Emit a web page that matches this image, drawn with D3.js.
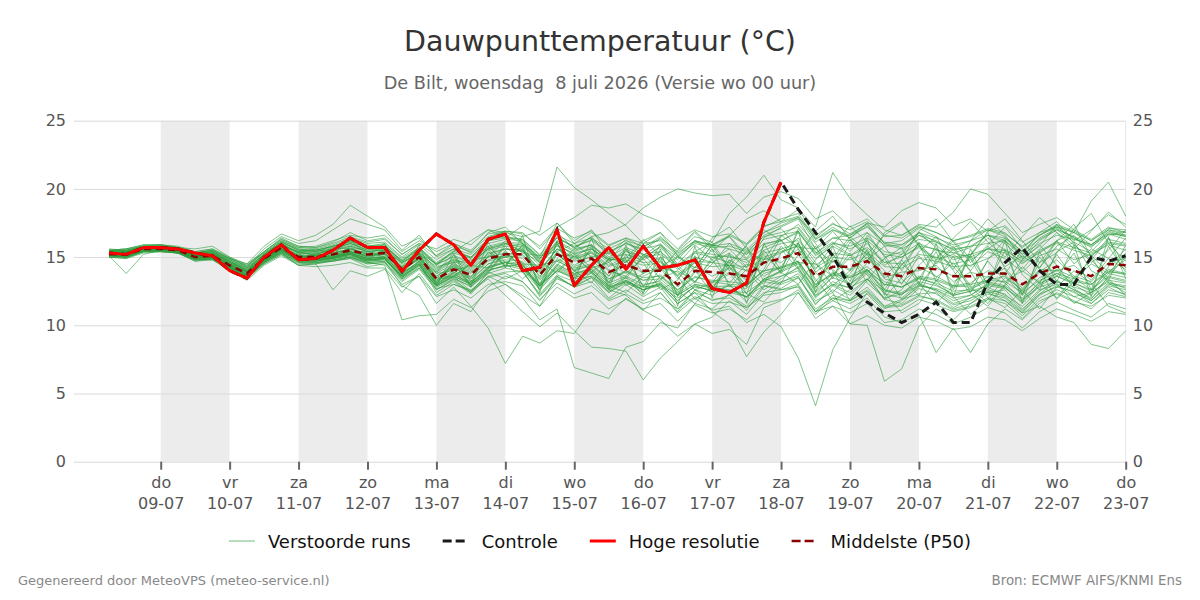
<!DOCTYPE html>
<html>
<head>
<meta charset="utf-8">
<script src="https://cdn.jsdelivr.net/npm/d3@7"></script>
<style>
    body { margin: 0; background: #ffffff; }
    svg { display: block; font-family: "DejaVu Sans", sans-serif; }
</style>
</head>
<body>
<svg id="chart" width="1200" height="600"></svg>
<script>
/*
    Time axis: first forecast step and step size (hours)
 */
var startTime = Date.UTC(2026, 6, 8, 6);
var stepHours = 6;

/*
    Tick labels along the bottom axis (one per day, 09-07 .. 23-07)
 */
var dayNames = ["do", "vr", "za", "zo", "ma", "di", "wo", "do", "vr", "za", "zo", "ma", "di", "wo", "do"];
var dayDates = ["09-07", "10-07", "11-07", "12-07", "13-07", "14-07", "15-07", "16-07", "17-07", "18-07", "19-07", "20-07", "21-07", "22-07", "23-07"];
var shadedDays = ["09-07", "11-07", "13-07", "15-07", "17-07", "19-07", "21-07"];
var yTicks = [0, 5, 10, 15, 20, 25];

/*
    Hoge resolutie (ends 18-07 00 uur)
 */
var hres = [15.3, 15.2, 15.7, 15.7, 15.6, 15.3, 15.1, 14.0, 13.45, 15.0,
    15.9, 14.8, 14.9, 15.5, 16.4, 15.7, 15.7, 13.95, 15.5, 16.7,
    15.9, 14.4, 16.3, 16.7, 14.0, 14.25, 17.0, 12.9, 14.4, 15.7,
    14.1, 15.8, 14.2, 14.4, 14.8, 12.7, 12.4, 13.1, 17.55, 20.5];

/*
    Controle run
 */
var control = [15.3, 15.2, 15.7, 15.7, 15.6, 15.3, 15.1, 14.0, 13.45, 15.0,
    15.9, 14.8, 14.9, 15.5, 16.4, 15.7, 15.7, 13.95, 15.5, 16.7,
    15.9, 14.4, 16.3, 16.7, 14.0, 14.25, 17.0, 12.9, 14.4, 15.7,
    14.1, 15.8, 14.2, 14.4, 14.8, 12.7, 12.4, 13.1, 17.55, 20.5,
    18.5, 16.8, 15.1, 12.8, 11.7, 10.9, 10.2, 10.8, 11.7, 10.2,
    10.2, 13.2, 14.6, 15.7, 14.0, 13.0, 13.0, 15.0, 14.7, 15.1];

/*
    Middelste (P50)
 */
var p50 = [15.2, 15.2, 15.6, 15.6, 15.5, 15.0, 15.1, 14.4, 13.8, 14.9,
    15.7, 15.0, 15.0, 15.2, 15.5, 15.2, 15.3, 14.1, 15.0, 13.4,
    14.1, 13.7, 14.9, 15.2, 15.2, 13.7, 15.2, 14.6, 14.9, 13.9,
    14.4, 14.0, 14.0, 13.0, 14.0, 13.9, 13.8, 13.6, 14.6, 14.9,
    15.3, 13.6, 14.3, 14.3, 14.7, 13.8, 13.6, 14.2, 14.1, 13.6,
    13.6, 13.8, 13.8, 13.0, 13.8, 14.3, 14.0, 13.6, 14.5, 14.4];

/*
    Verstoorde runs (50 members)
 */
var members = [
    [15.4,15.3,15.7,15.8,15.6,15.2,15.3,14.6,14.0,15.1, 15.9,15.3,15.2,15.6,16.0,15.5,15.8,14.6,15.4,14.2, 14.8,14.5,15.6,16.0,15.4,14.6,16.1,15.0,15.8,14.9, 15.2,14.8,15.4,14.1,15.0,14.6,15.3,14.2,15.5,16.0, 16.2,14.9,15.8,15.1,16.0,14.6,15.0,15.7,14.8,15.2, 14.3,15.4,14.9,13.9,15.1,15.6,14.8,15.2,15.9,15.5],
    [15.0,14.9,15.4,15.5,15.3,14.8,14.8,14.1,13.5,14.6, 15.3,14.6,14.5,14.8,15.0,14.7,14.8,13.6,14.4,12.8, 13.4,12.9,14.1,14.3,14.5,12.6,14.0,13.5,13.8,12.4, 13.2,12.6,13.1,11.8,12.9,12.5,12.9,12.0,13.4,13.1, 13.8,12.1,13.0,12.4,13.4,12.0,12.3,13.1,12.5,11.6, 12.0,12.8,12.2,11.4,12.6,13.0,12.1,12.4,13.2,12.7],
    [15.5,15.6,15.9,15.9,15.7,15.6,15.8,15.0,14.5,15.8, 16.7,16.2,16.6,17.4,18.8,18.0,17.2,15.8,16.4,15.1, 16.0,15.3,16.8,17.2,16.0,15.0,17.5,16.2,17.0,15.2, 16.3,15.1,16.0,14.5,15.9,14.8,15.6,14.3,16.4,17.2, 17.8,15.6,16.9,15.4,16.8,15.0,15.4,16.6,15.9,14.8, 15.2,16.4,15.5,14.1,15.6,16.8,15.9,14.8,16.3,16.0],
    [15.1,13.8,15.2,15.5,15.4,15.1,15.0,14.3,13.7,14.8, 15.5,14.8,14.9,15.0,15.3,14.9,15.0,13.7,14.7,13.0, 13.9,13.2,14.5,15.0,14.6,13.1,14.8,14.0,14.4,13.2, 14.0,13.3,13.7,12.6,13.6,13.2,13.0,12.9,14.0,14.2, 14.7,12.8,13.9,13.6,14.3,13.2,12.8,13.6,13.4,12.9, 12.8,13.3,13.6,12.2,13.5,14.0,13.2,13.0,14.1,13.8],
    [15.3,15.1,15.5,15.6,15.4,14.9,15.0,14.2,13.6,14.7, 15.6,14.7,14.8,14.9,15.3,14.6,14.4,10.4,10.7,10.8, 11.9,11.3,12.5,13.0,12.2,11.4,13.6,12.8,13.9,12.6, 13.5,12.2,13.6,12.4,14.0,13.1,13.9,12.8,14.8,15.3, 15.9,13.9,14.8,14.1,15.2,13.4,13.1,14.3,13.6,12.9, 13.1,14.0,13.7,12.5,13.9,14.8,13.6,13.2,14.6,14.9],
    [15.2,15.0,15.4,15.4,15.3,14.7,14.9,14.1,13.4,14.5, 15.2,14.4,14.5,14.7,14.9,14.3,14.5,13.0,13.6,11.6, 12.8,11.4,9.8,7.2,9.2,8.7,9.6,9.4,11.2,10.8, 12.0,11.1,12.4,11.0,12.6,12.2,13.0,11.7,13.4,14.0, 14.6,12.5,13.8,13.0,14.1,12.6,12.2,13.5,13.0,12.2, 12.5,13.6,13.1,11.8,13.2,14.1,13.5,12.6,14.0,13.7],
    [15.3,15.2,15.5,15.7,15.5,15.0,15.2,14.4,13.9,14.9, 15.6,14.9,14.9,15.1,15.4,15.0,15.0,13.9,14.5,12.4, 13.2,12.3,13.6,13.0,12.0,10.4,11.2,6.9,6.5,6.1, 8.4,8.8,10.2,9.8,11.6,11.2,12.3,11.1,12.8,13.6, 14.2,12.0,13.2,12.7,13.8,12.3,12.0,13.0,12.6,12.0, 12.2,13.0,12.8,11.6,12.9,13.6,13.0,12.2,13.5,13.2],
    [15.1,15.2,15.6,15.5,15.4,15.0,14.9,14.3,13.7,14.8, 15.5,14.9,14.7,15.0,15.2,14.8,14.9,13.4,14.2,12.9, 13.6,12.5,13.4,12.2,11.0,9.9,10.9,9.6,8.4,8.3, 8.1,6.0,7.6,8.8,10.1,10.6,11.8,10.8,12.3,13.2, 13.6,11.5,12.9,12.2,13.4,11.9,11.6,12.7,12.3,11.5, 11.8,12.6,12.3,11.1,12.5,13.3,12.6,11.8,13.0,12.8],
    [15.6,15.5,15.8,15.9,15.8,15.4,15.6,15.0,14.3,15.4, 16.4,15.8,15.7,16.1,16.8,16.2,16.4,15.2,16.0,15.6, 16.3,15.9,17.0,16.8,16.5,16.9,21.6,20.1,19.2,18.2, 17.3,16.0,16.8,15.6,16.9,15.8,16.5,15.2,16.8,17.5, 17.9,16.1,17.0,16.4,17.3,15.8,15.9,16.6,16.2,15.5, 15.8,16.6,16.2,15.0,16.4,17.1,16.4,15.7,16.9,16.5],
    [15.5,15.4,15.7,15.7,15.6,15.2,15.3,14.8,14.2,15.2, 16.1,15.6,15.4,15.8,16.2,15.9,15.7,14.8,15.6,14.4, 15.5,15.0,16.2,16.6,16.0,14.9,16.5,15.7,16.3,15.4, 16.0,15.5,16.4,15.4,16.5,16.1,18.2,19.4,21.0,19.2, 18.6,16.4,17.5,16.7,17.4,16.0,15.7,16.8,16.1,15.3, 15.7,16.6,16.0,14.8,16.2,17.0,16.1,15.4,16.7,16.3],
    [15.2,15.1,15.5,15.6,15.4,14.9,15.1,14.2,13.6,14.6, 15.4,14.8,14.8,14.9,15.1,14.8,14.9,13.6,14.6,12.6, 13.3,12.4,13.6,13.9,14.0,12.1,13.5,12.8,13.2,11.9, 12.6,11.8,12.4,10.9,12.0,11.1,11.4,10.2,10.8,9.9, 7.6,4.1,8.2,10.5,12.4,11.2,11.8,12.9,12.6,11.8, 12.2,13.1,12.8,11.7,13.0,13.8,13.1,12.5,13.8,13.5],
    [15.3,15.3,15.6,15.7,15.5,15.1,15.2,14.5,13.9,14.9, 15.8,15.1,15.0,15.3,15.6,15.2,15.3,14.0,15.0,13.5, 14.2,13.6,14.8,15.1,14.9,13.4,14.9,14.2,14.5,13.4, 13.9,13.3,13.4,12.3,13.2,12.8,12.6,12.1,13.2,13.0, 13.5,11.8,12.4,10.1,10.0,5.9,6.8,9.9,11.2,10.4, 11.6,12.5,12.1,11.0,12.3,13.2,12.6,12.0,13.1,12.9],
    [15.2,15.1,15.5,15.5,15.4,14.9,15.0,14.3,13.6,14.7, 15.4,14.7,14.7,14.9,15.2,14.8,14.9,13.5,14.4,12.9, 13.5,12.8,14.0,14.4,14.3,12.7,14.1,13.5,13.9,12.8, 13.3,12.6,12.9,11.6,12.4,11.9,12.0,11.3,12.2,12.4, 12.9,11.0,11.8,11.2,12.0,10.6,10.2,10.8,8.0,9.8, 8.0,10.1,11.2,10.4,11.6,12.4,11.8,11.2,12.4,12.1],
    [15.4,15.5,15.8,15.8,15.7,15.3,15.5,14.9,14.4,15.3, 16.2,15.7,15.6,15.9,16.4,16.0,16.1,15.0,15.9,14.8, 15.6,15.2,16.3,16.5,16.3,15.2,16.6,16.0,16.4,15.6, 16.2,15.8,16.3,15.2,16.2,15.8,16.0,15.5,16.8,17.3, 17.9,16.6,17.4,17.0,17.6,16.5,16.6,17.4,17.2,18.3, 20.0,19.6,18.2,16.8,17.4,17.9,17.0,16.3,17.2,16.8],
    [15.3,15.2,15.6,15.6,15.5,15.0,15.2,14.5,13.9,15.0, 15.9,15.2,15.1,15.4,15.8,15.4,15.5,14.3,15.2,13.8, 14.5,14.0,15.2,15.6,15.5,14.0,15.6,14.9,15.3,14.3, 14.8,14.4,14.6,13.6,14.6,14.3,14.4,14.0,15.0,15.4, 15.8,14.2,15.0,14.8,15.4,14.3,14.2,14.9,14.7,14.3, 14.4,14.9,15.6,14.6,15.3,16.2,16.8,19.1,20.5,18.0],
    [15.5,15.4,15.8,15.7,15.6,15.2,15.4,14.7,14.1,15.1, 16.0,15.4,15.4,15.6,16.0,15.6,15.7,14.5,15.4,14.1, 14.9,14.3,15.7,16.0,15.9,14.6,16.1,15.4,15.9,14.7, 15.4,15.0,15.2,14.3,15.3,15.0,15.1,14.6,15.7,16.2, 16.8,15.2,16.4,16.6,17.5,17.2,18.4,19.0,18.6,17.3, 17.8,16.9,17.3,16.1,16.8,17.2,16.4,15.8,16.6,16.9],
    [15.2,15.3,15.7,15.6,15.6,15.1,15.0,14.5,13.8,14.9, 15.8,14.9,15.2,15.1,15.7,15.0,15.5,14.0,15.2,13.2, 14.3,13.5,15.1,15.0,15.6,13.5,15.4,14.4,15.1,13.6, 14.7,13.8,14.3,12.8,14.3,13.6,14.2,13.3,14.9,14.6, 15.6,13.2,14.7,14.0,15.0,13.5,13.9,14.0,14.4,13.2, 13.9,13.5,14.2,12.7,14.1,14.0,14.4,13.3,14.9,14.1],
    [15.0,15.1,15.5,15.7,15.4,15.0,15.2,14.3,13.9,15.0, 15.6,15.2,14.8,15.5,15.3,15.4,15.0,14.3,14.8,13.8, 14.0,14.4,14.2,15.8,14.5,14.4,14.7,15.3,14.2,14.6, 13.8,14.9,13.4,14.0,13.2,14.8,13.1,14.5,13.9,15.8, 14.6,14.5,13.6,15.3,13.9,14.9,13.0,15.1,13.5,14.6, 12.9,14.7,13.2,14.0,13.1,15.2,13.4,14.5,13.8,15.3],
    [15.4,15.2,15.6,15.7,15.5,14.9,15.1,14.4,13.7,14.8, 15.7,15.1,14.9,15.0,15.4,15.1,15.2,14.2,14.9,13.9, 15.3,13.2,14.1,16.0,15.7,13.0,14.4,15.6,15.9,13.1, 15.6,13.8,15.9,14.2,13.1,15.0,14.6,12.8,15.9,16.3, 14.2,15.8,13.4,16.1,15.2,12.9,14.4,16.0,13.2,15.1, 12.4,14.8,16.3,13.7,12.6,15.4,16.1,14.0,13.3,15.9],
    [15.1,15.0,15.4,15.4,15.3,14.8,14.9,14.2,13.5,14.5, 15.2,14.5,14.6,14.7,14.9,14.5,14.6,13.3,14.2,12.7, 13.0,12.6,13.5,13.8,13.2,11.9,13.1,12.3,12.9,11.8, 12.3,11.6,12.0,11.2,12.1,11.6,11.7,11.3,12.4,12.6, 13.0,11.2,12.0,11.6,12.3,11.0,11.1,11.9,11.5,11.0, 11.3,11.9,11.6,10.5,11.8,12.3,11.7,11.4,12.2,12.0],
    [15.5,15.6,15.9,15.9,15.7,15.3,15.5,14.9,14.5,15.4, 16.3,15.7,15.8,16.2,16.6,16.4,16.6,15.4,16.2,15.4, 16.0,15.5,16.7,16.9,16.8,15.6,17.1,16.4,16.9,15.9, 16.4,16.0,16.2,15.1,16.0,15.7,15.8,15.4,16.5,16.8, 17.2,15.6,16.4,16.2,16.8,15.9,15.6,16.3,16.1,15.6, 15.8,16.0,16.2,15.2,16.0,16.6,16.3,15.9,16.7,16.6],
    [15.3,15.4,15.6,15.5,15.4,15.0,15.1,14.4,13.8,14.9, 15.7,15.0,15.1,15.3,15.6,15.3,15.4,14.2,15.1,13.6, 14.4,13.9,15.0,15.6,15.4,13.9,15.6,14.8,15.3,14.1, 13.4,15.2,14.8,12.2,13.9,15.6,12.8,14.1,13.0,15.3, 16.4,14.6,12.9,14.0,16.6,15.1,13.4,12.2,14.8,16.2, 14.9,12.6,13.8,15.5,14.1,11.9,13.2,15.0,16.4,14.2],
    [15.4,15.3,15.7,15.6,15.5,15.1,15.3,14.6,14.1,15.2, 16.0,15.3,15.6,15.2,16.3,15.1,16.0,13.8,15.9,12.9, 15.2,12.8,16.1,14.2,16.6,12.4,16.2,13.2,16.4,12.6, 15.9,12.3,15.6,11.4,15.8,12.0,15.3,11.6,16.0,14.0, 16.9,12.4,15.8,12.7,16.4,12.2,14.8,13.0,16.0,12.1, 15.6,12.8,16.2,11.6,15.4,13.2,15.9,12.1,16.5,13.4],
    [15.2,15.3,15.5,15.6,15.5,15.0,15.0,14.4,13.9,14.9, 15.6,15.1,14.9,15.2,15.4,15.1,15.2,14.1,14.8,13.4, 13.5,14.6,15.6,14.3,15.9,14.7,13.8,15.2,13.9,14.8, 14.8,12.9,13.3,15.1,14.0,12.4,14.6,15.8,13.2,14.0, 17.1,15.4,14.0,11.8,13.3,14.9,15.7,13.1,11.6,12.9, 15.2,16.8,14.1,12.3,14.6,16.2,17.4,15.0,13.1,12.4],
    [15.4,15.5,15.7,15.8,15.7,15.4,15.6,14.9,14.3,15.6, 16.5,16.0,16.2,17.0,17.8,17.4,17.0,15.5,16.6,15.0, 15.6,14.9,16.4,16.9,16.1,14.8,16.8,15.6,16.5,15.0, 15.7,15.2,15.4,14.4,15.4,15.2,15.0,14.8,16.0,16.2, 16.9,15.1,16.0,15.8,16.4,15.4,15.2,16.0,15.5,15.3, 15.0,15.6,15.3,14.5,15.4,16.0,15.5,15.1,16.0,15.8],
    [15.0,14.9,15.3,15.4,15.3,14.7,14.8,14.0,13.3,14.4, 15.1,14.4,14.3,14.4,14.6,14.2,14.2,12.8,13.6,12.1, 12.6,12.0,13.0,13.2,12.9,11.4,12.8,12.0,12.4,11.2, 11.9,11.2,11.6,10.3,11.5,10.9,11.2,10.4,11.6,11.9, 12.4,10.5,11.4,10.9,11.6,10.2,10.4,11.2,10.8,10.1, 10.6,11.3,10.9,9.8,11.0,11.7,11.1,10.6,11.6,11.2],
    [15.3,15.2,15.6,15.7,15.4,15.0,15.1,14.3,13.7,14.8, 15.6,14.9,14.8,15.0,15.2,14.8,14.9,13.6,14.6,13.0, 13.8,13.0,14.2,14.6,14.2,12.9,14.2,13.6,14.0,12.6, 12.2,11.1,10.4,9.2,10.1,9.4,9.7,8.6,11.3,11.8, 12.6,11.0,12.2,11.8,12.6,11.4,11.5,12.2,11.8,11.1, 11.4,12.0,11.8,10.7,12.0,12.6,12.1,11.6,12.6,12.3],
    [15.2,15.0,15.5,15.5,15.4,14.9,15.0,14.2,13.6,14.7, 15.5,14.8,14.8,15.0,15.2,14.7,14.9,13.5,14.5,13.1, 13.8,13.1,14.3,14.7,14.5,12.8,14.4,13.8,14.1,12.9, 13.5,12.8,13.0,11.6,12.4,11.0,10.1,7.7,9.5,10.8, 12.4,10.8,12.0,11.8,12.5,11.3,11.4,12.1,11.9,11.2, 11.6,12.3,12.0,10.9,12.2,12.9,12.4,11.8,12.9,12.6],
    [15.4,15.3,15.7,15.8,15.6,15.2,15.3,14.6,14.0,15.0, 15.9,15.4,15.3,15.6,16.0,15.5,15.6,14.6,15.3,14.5, 15.0,14.6,15.6,15.9,15.8,14.6,15.8,15.3,15.6,14.8, 16.1,15.2,14.0,15.5,16.8,15.6,14.3,15.9,17.0,16.2, 15.1,16.9,18.0,16.3,15.2,16.6,17.5,15.8,14.9,16.4, 17.6,16.1,15.0,16.5,17.9,16.8,15.6,16.9,18.3,17.2],
    [15.1,15.1,15.5,15.5,15.4,14.9,15.0,14.3,13.7,14.8, 15.5,14.8,14.9,15.0,15.3,14.9,15.1,13.8,14.7,13.1, 14.6,12.8,13.9,15.5,14.1,12.6,15.3,14.0,13.1,14.9, 12.9,13.8,15.0,13.6,11.9,12.7,14.3,13.4,15.2,13.9, 13.0,14.8,16.0,15.2,13.1,12.0,13.5,15.4,16.5,14.3, 12.8,11.6,13.0,14.8,15.9,14.4,12.7,11.9,13.6,15.0],
    [15.3,15.4,15.7,15.6,15.5,15.1,15.3,14.6,14.0,15.1, 16.0,15.3,15.3,15.5,15.9,15.4,15.6,14.4,15.3,14.0, 14.8,14.2,15.5,15.8,15.6,14.4,15.9,15.2,15.6,14.6, 15.6,14.9,15.8,14.8,16.2,15.4,16.6,15.9,17.2,17.8, 18.2,16.3,17.2,16.4,17.5,16.0,16.2,17.1,16.5,15.7, 16.2,17.0,16.5,15.4,16.6,17.3,16.8,15.9,17.0,16.6],
    [15.2,15.2,15.6,15.7,15.5,15.0,15.1,14.4,13.8,14.8, 15.6,15.0,14.9,15.1,15.4,15.0,15.2,13.9,14.9,13.3, 14.0,13.5,14.7,15.0,15.1,13.6,15.2,14.3,14.8,13.6, 15.5,14.6,12.6,13.3,15.4,16.1,14.2,12.9,14.1,16.5, 17.4,16.0,14.1,13.0,14.6,16.8,17.6,15.9,14.2,13.6, 15.1,16.9,17.8,16.2,14.6,15.3,17.1,18.2,16.0,14.7],
    [15.5,15.6,15.8,15.9,15.7,15.3,15.5,14.8,14.3,15.3, 16.2,15.6,15.5,15.8,16.2,15.8,16.0,14.9,15.7,14.6, 15.4,15.0,16.2,16.4,16.3,15.1,16.4,15.8,16.2,15.3, 16.0,15.6,15.9,15.0,16.1,15.9,16.6,17.8,18.4,17.6, 18.5,17.2,21.2,19.3,18.1,17.0,16.6,17.3,16.8,16.2, 16.6,17.1,16.8,15.7,16.6,17.4,16.9,16.2,17.1,17.0],
    [15.1,15.0,15.4,15.5,15.3,14.8,14.9,14.1,13.6,14.6, 15.3,14.6,14.7,14.8,15.0,14.6,14.7,13.4,14.3,12.9, 13.6,13.0,14.0,14.4,14.1,12.9,14.0,13.4,13.6,12.7, 13.2,12.8,12.9,12.0,12.8,12.6,12.5,12.4,13.3,13.6, 14.0,12.2,13.0,12.8,13.4,12.5,12.3,12.9,12.7,12.2, 12.5,12.9,12.7,11.9,12.8,13.2,12.8,12.4,13.3,13.1],
    [15.3,15.1,15.6,15.5,15.6,14.9,15.2,14.3,14.0,14.8, 15.8,14.9,15.3,14.9,15.8,14.8,15.6,13.7,15.3,13.0, 14.7,13.2,15.4,14.4,15.9,12.9,16.0,13.6,15.8,12.9, 15.2,12.8,15.0,12.1,15.1,12.6,14.8,12.3,15.5,13.8, 16.1,12.8,15.3,13.2,15.6,12.6,14.5,13.4,15.4,12.6, 15.1,13.0,15.5,12.2,15.0,13.6,15.3,12.6,15.8,13.9],
    [15.2,15.1,15.5,15.6,15.4,14.9,15.0,14.2,13.6,14.7, 15.4,14.7,14.6,14.8,15.0,14.6,14.7,12.9,12.2,10.0, 11.6,11.0,12.8,13.6,13.2,11.8,13.4,12.9,13.5,12.4, 13.1,12.6,13.0,12.2,13.0,12.8,12.9,12.7,13.8,14.2, 14.6,13.0,13.7,13.5,14.0,13.0,12.8,13.5,13.3,12.8, 13.0,13.3,13.2,12.4,13.3,13.8,13.4,13.0,13.9,13.8],
    [15.4,15.4,15.7,15.8,15.6,15.3,15.4,14.8,14.2,15.2, 16.1,15.5,15.5,15.8,16.1,15.7,15.9,14.7,15.6,14.5, 15.4,16.2,17.0,16.4,17.3,16.6,17.5,16.0,16.8,15.8, 16.4,15.7,16.5,15.3,16.2,15.9,15.6,15.2,16.3,16.6, 16.9,15.3,16.1,15.6,16.2,15.2,15.0,15.8,15.6,15.0, 15.2,15.6,15.5,14.7,15.5,16.1,15.7,15.3,16.1,15.9],
    [15.2,15.1,15.5,15.6,15.5,15.0,15.0,14.3,13.7,14.7, 15.5,14.8,14.8,14.9,15.2,14.8,14.9,13.6,14.5,13.0, 13.7,13.1,14.3,14.6,14.4,13.0,14.5,13.8,14.2,13.1, 13.6,13.0,13.2,12.2,13.0,12.7,12.4,12.1,12.9,12.6, 12.8,11.0,11.4,10.1,10.7,10.0,9.8,10.6,10.3,9.7, 9.9,10.6,10.4,9.6,10.5,11.2,10.8,10.3,11.0,10.8],
    [15.3,15.3,15.6,15.6,15.4,15.0,15.2,14.5,13.9,15.0, 15.8,15.1,15.1,15.3,15.6,15.2,15.3,14.1,15.0,13.6, 14.3,13.8,15.0,15.3,15.2,13.8,15.3,14.7,15.0,14.0, 13.6,15.0,15.7,14.4,13.2,14.5,16.0,14.8,13.6,14.3, 16.0,13.9,12.4,13.8,15.3,14.0,11.9,12.8,14.6,15.8, 13.9,12.0,11.3,12.6,14.0,13.1,11.6,12.4,14.3,15.6],
    [15.4,15.3,15.7,15.7,15.6,15.1,15.3,14.6,14.0,15.0, 15.9,15.3,15.2,15.5,15.8,15.4,15.5,14.3,15.2,13.9, 14.7,14.1,15.3,15.6,15.5,14.1,15.6,15.0,15.4,14.4, 15.0,14.6,14.7,13.7,14.7,14.6,14.4,14.3,15.3,15.6, 16.0,14.4,15.3,15.1,15.7,14.6,14.5,15.2,15.0,14.5, 14.8,15.6,16.4,15.2,16.8,17.6,16.2,17.0,18.1,17.4],
    [15.1,15.0,15.4,15.5,15.3,14.8,14.9,14.1,13.5,14.6, 15.3,14.6,14.6,14.7,15.0,14.5,14.6,13.2,14.1,12.6, 13.4,12.4,13.9,13.4,14.0,12.2,13.6,12.8,13.5,12.0, 13.0,12.1,12.8,11.2,12.6,11.8,12.2,11.4,12.9,12.7, 13.5,11.6,12.6,11.9,12.8,11.4,11.9,12.3,12.4,11.3, 12.0,12.4,12.6,11.2,12.3,12.8,12.5,11.6,12.8,12.2],
    [15.4,15.5,15.7,15.8,15.6,15.2,15.4,14.7,14.1,15.2, 16.1,15.5,15.4,15.7,16.1,15.7,15.8,14.7,15.5,14.4, 15.1,14.7,15.8,16.1,16.0,14.7,16.2,15.5,15.9,14.9, 14.6,16.2,16.8,15.1,14.2,15.9,16.5,14.9,16.6,17.1, 15.6,14.1,15.9,17.3,16.1,14.4,15.2,16.8,15.7,14.1, 16.2,17.8,16.6,14.9,15.8,17.4,16.0,14.6,15.5,17.0],
    [15.2,15.2,15.5,15.6,15.4,14.9,15.1,14.3,13.7,14.8, 15.6,14.9,14.9,15.1,15.3,14.9,15.0,13.7,14.7,13.2, 13.9,13.4,14.5,14.8,14.7,13.3,14.7,14.1,14.4,13.4, 14.0,13.5,13.6,12.6,13.5,13.3,13.2,13.0,14.0,14.3, 14.7,13.0,13.8,13.5,14.1,13.0,12.8,13.4,13.1,12.5, 12.6,12.4,11.8,10.9,11.4,10.6,10.2,8.6,8.3,9.6],
    [15.3,15.2,15.6,15.6,15.5,15.1,15.1,14.5,13.9,14.9, 15.7,15.1,15.0,15.2,15.5,15.1,15.3,14.0,14.9,13.5, 13.6,14.5,15.8,14.6,13.4,14.5,16.0,13.9,15.6,14.8, 14.9,16.3,15.1,13.4,14.6,16.4,17.2,15.6,14.5,15.6, 14.1,12.7,14.9,16.5,15.4,13.6,14.8,16.9,17.8,16.1, 14.6,15.9,17.2,15.6,14.2,15.8,16.6,15.1,13.9,14.8],
    [15.5,15.5,15.8,15.8,15.7,15.3,15.5,14.9,14.4,15.4, 16.3,15.8,15.7,16.0,16.5,16.1,16.3,15.2,16.0,15.1, 15.8,15.4,16.5,16.9,16.7,15.8,17.2,17.9,18.8,18.6, 18.9,18.1,17.6,16.3,17.0,16.5,16.7,16.0,17.3,17.6, 18.0,16.3,17.0,16.6,17.2,16.1,15.9,16.8,16.4,15.9, 16.2,16.6,16.4,15.4,16.3,17.0,16.5,15.9,16.8,16.5],
    [15.4,15.4,15.7,15.7,15.6,15.2,15.4,14.7,14.2,15.2, 16.1,15.5,15.5,15.8,16.2,15.8,15.9,14.7,15.7,14.5, 15.3,14.9,16.0,16.3,16.2,14.9,16.4,15.7,16.5,16.8, 17.4,18.6,19.4,20.0,19.7,19.5,19.6,18.2,19.4,19.8, 19.3,17.8,18.4,17.2,17.8,16.6,16.4,17.2,16.8,16.2, 16.5,17.0,16.7,15.8,16.6,17.2,16.8,16.2,17.0,16.8],
    [15.2,15.1,15.5,15.5,15.4,14.9,15.0,14.3,13.7,14.8, 15.5,14.9,14.8,15.0,15.3,14.9,15.0,13.8,14.7,13.3, 14.4,13.0,13.8,15.4,14.2,12.9,14.0,15.1,13.9,12.8, 13.2,12.4,14.2,13.9,12.6,13.1,14.8,14.0,12.6,13.4, 14.3,12.2,13.6,15.0,13.7,11.9,12.6,14.4,15.6,14.0, 12.3,11.4,12.9,14.3,13.1,12.0,13.5,14.8,13.4,12.2],
    [15.1,15.2,15.4,15.6,15.3,14.9,14.8,14.2,13.5,14.6, 15.3,14.4,14.5,12.6,14.0,13.6,14.1,12.4,13.8,12.2, 13.0,12.5,13.8,14.2,13.9,12.3,13.7,13.2,13.6,12.5, 13.3,12.6,13.1,11.8,12.9,12.5,12.6,12.1,13.4,13.9, 14.5,12.4,13.5,13.0,13.9,12.6,12.4,13.2,12.9,12.3, 12.7,13.2,12.9,12.0,13.1,13.6,13.1,12.6,13.6,13.3],
    [15.3,15.4,15.6,15.8,15.5,15.2,15.2,14.7,14.0,15.1, 15.8,15.4,15.1,15.7,15.6,15.6,15.4,14.6,15.2,14.3, 14.6,14.8,15.0,16.2,15.3,15.1,15.4,16.0,15.0,15.3, 14.6,15.8,14.3,15.0,14.2,15.9,14.0,15.4,14.8,16.6, 15.7,15.6,14.6,16.3,14.8,15.8,14.0,16.1,14.5,15.6, 14.0,15.8,14.3,15.1,14.2,16.2,14.5,15.6,14.9,16.4],
    [15.0,15.0,15.4,15.4,15.3,14.8,14.9,14.2,13.6,14.7, 15.4,14.7,14.7,14.9,15.1,14.7,14.8,13.5,14.4,12.9, 13.6,13.0,14.2,14.6,14.4,12.9,14.3,13.7,14.1,12.9, 12.4,13.6,14.2,12.5,11.6,12.9,13.8,12.3,11.7,13.1, 15.2,13.4,11.8,12.6,14.1,12.4,10.9,11.6,13.3,12.1, 10.8,11.9,13.5,12.6,11.2,12.8,14.0,13.1,11.4,10.9]
];

/*
    Layout of the plot area
 */
var plotLeft = 74;
var plotRight = 1125.7;
var plotTop = 120.7;
var plotBottom = 461.7;

var svg = d3.select("#chart");

var timeOf = function (i) {
    return new Date(startTime + i * stepHours * 3600 * 1000);
};

var tickDates = d3.utcDay.range(Date.UTC(2026, 6, 9), Date.UTC(2026, 6, 24));

var x = d3.scaleUtc()
    .domain([Date.UTC(2026, 6, 9), Date.UTC(2026, 6, 23)])
    .range([160.7, plotRight]);

var y = d3.scaleLinear()
    .domain([0, 25])
    .range([plotBottom, plotTop]);

/*
    Alternating day shading
 */
svg.append("g")
    .selectAll("rect")
    .data(shadedDays)
    .enter()
    .append("rect")
    .attr("x", function (d) { return x(tickDates[dayDates.indexOf(d)]); })
    .attr("y", plotTop)
    .attr("width", function (d) {
        var i = dayDates.indexOf(d);
        return x(tickDates[i + 1]) - x(tickDates[i]);
    })
    .attr("height", plotBottom - plotTop)
    .attr("fill", "#ececec");

/*
    Horizontal grid lines
 */
var grid = svg.append("g")
    .attr("transform", "translate(" + plotLeft + ",0)")
    .call(d3.axisLeft(y).tickValues(yTicks).tickSize(-(plotRight - plotLeft)).tickFormat(""));
grid.select(".domain").remove();
grid.selectAll("line").attr("stroke", "#d9d9d9").attr("stroke-width", 1);

// right border of the plot
svg.append("line")
    .attr("x1", plotRight).attr("x2", plotRight)
    .attr("y1", plotTop).attr("y2", plotBottom)
    .attr("stroke", "#e6e6e6");

/*
    Axes
 */
var styleAxisText = function (g) {
    g.select(".domain").remove();
    g.selectAll("text")
        .attr("fill", "#555555")
        .style("font-size", "16px")
        .style("font-family", "DejaVu Sans, sans-serif");
};

svg.append("g")
    .attr("transform", "translate(" + plotLeft + ",0)")
    .call(d3.axisLeft(y).tickValues(yTicks).tickSize(0).tickPadding(8))
    .call(styleAxisText);

svg.append("g")
    .attr("transform", "translate(" + plotRight + ",0)")
    .call(d3.axisRight(y).tickValues(yTicks).tickSize(0).tickPadding(7))
    .call(styleAxisText);

var xAxis = svg.append("g")
    .attr("transform", "translate(0," + plotBottom + ")")
    .call(d3.axisBottom(x).tickValues(tickDates).tickSize(8).tickPadding(7)
        .tickFormat(function (d, i) { return dayNames[i]; }))
    .call(styleAxisText);

xAxis.selectAll(".tick line").attr("stroke", "#666666").attr("stroke-width", 2);

xAxis.selectAll(".tick")
    .append("text")
    .attr("y", 15)
    .attr("dy", "2.02em")
    .attr("fill", "#555555")
    .style("font-size", "16px")
    .style("font-family", "DejaVu Sans, sans-serif")
    .text(function (d, i) { return dayDates[i]; });

/*
    Series
 */
var line = d3.line()
    .x(function (d, i) { return x(timeOf(i)); })
    .y(function (d) { return y(d); });

svg.append("g")
    .selectAll("path")
    .data(members)
    .enter()
    .append("path")
    .attr("d", line)
    .attr("fill", "none")
    .attr("stroke", "#2e9e40")
    .attr("stroke-opacity", 0.6)
    .attr("stroke-width", 1);

svg.append("path")
    .datum(p50)
    .attr("d", line)
    .attr("fill", "none")
    .attr("stroke", "#8b0000")
    .attr("stroke-width", 2.5)
    .attr("stroke-dasharray", "7,5");

svg.append("path")
    .datum(control)
    .attr("d", line)
    .attr("fill", "none")
    .attr("stroke", "#1a1a1a")
    .attr("stroke-width", 3)
    .attr("stroke-dasharray", "8,5");

svg.append("path")
    .datum(hres)
    .attr("d", line)
    .attr("fill", "none")
    .attr("stroke", "#ff0000")
    .attr("stroke-width", 3)
    .attr("stroke-linejoin", "round");

/*
    Titles
 */
svg.append("text")
    .attr("x", 600).attr("y", 51)
    .attr("text-anchor", "middle")
    .attr("fill", "#333333")
    .style("font-size", "28.5px")
    .text("Dauwpunttemperatuur (°C)");

svg.append("text")
    .attr("x", 600).attr("y", 89)
    .attr("text-anchor", "middle")
    .attr("fill", "#666666")
    .style("font-size", "17.7px")
    .style("white-space", "pre")
    .attr("xml:space", "preserve")
    .text("De Bilt, woensdag  8 juli 2026 (Versie wo 00 uur)");

/*
    Legend
 */
var legendItems = [
    {name: "Verstoorde runs", color: "#2e9e40", width: 1, dash: null, opacity: 0.7},
    {name: "Controle", color: "#1a1a1a", width: 3, dash: "9,4", opacity: 1},
    {name: "Hoge resolutie", color: "#ff0000", width: 3, dash: null, opacity: 1},
    {name: "Middelste (P50)", color: "#8b0000", width: 2.5, dash: "9,4", opacity: 1}
];

var legend = svg.append("g");
var legendX = 0;

legendItems.forEach(function (d) {
    var g = legend.append("g").attr("transform", "translate(" + legendX + ",0)");
    g.append("line")
        .attr("x1", 0).attr("x2", 26)
        .attr("y1", 0).attr("y2", 0)
        .attr("stroke", d.color)
        .attr("stroke-width", d.width)
        .attr("stroke-opacity", d.opacity)
        .attr("stroke-dasharray", d.dash);
    var t = g.append("text")
        .attr("x", 39).attr("y", 6.5)
        .attr("fill", "#111111")
        .style("font-size", "18px")
        .text(d.name);
    legendX += 39 + t.node().getComputedTextLength() + 32;
});

legendX -= 32;
legend.attr("transform", "translate(" + (600 - legendX / 2) + ",541)");

/*
    Footer
 */
svg.append("text")
    .attr("x", 18).attr("y", 585)
    .attr("fill", "#888888")
    .style("font-size", "13px")
    .text("Gegenereerd door MeteoVPS (meteo-service.nl)");

svg.append("text")
    .attr("x", 1182).attr("y", 585)
    .attr("text-anchor", "end")
    .attr("fill", "#888888")
    .style("font-size", "13.4px")
    .text("Bron: ECMWF AIFS/KNMI Ens");
</script>
</body>
</html>
